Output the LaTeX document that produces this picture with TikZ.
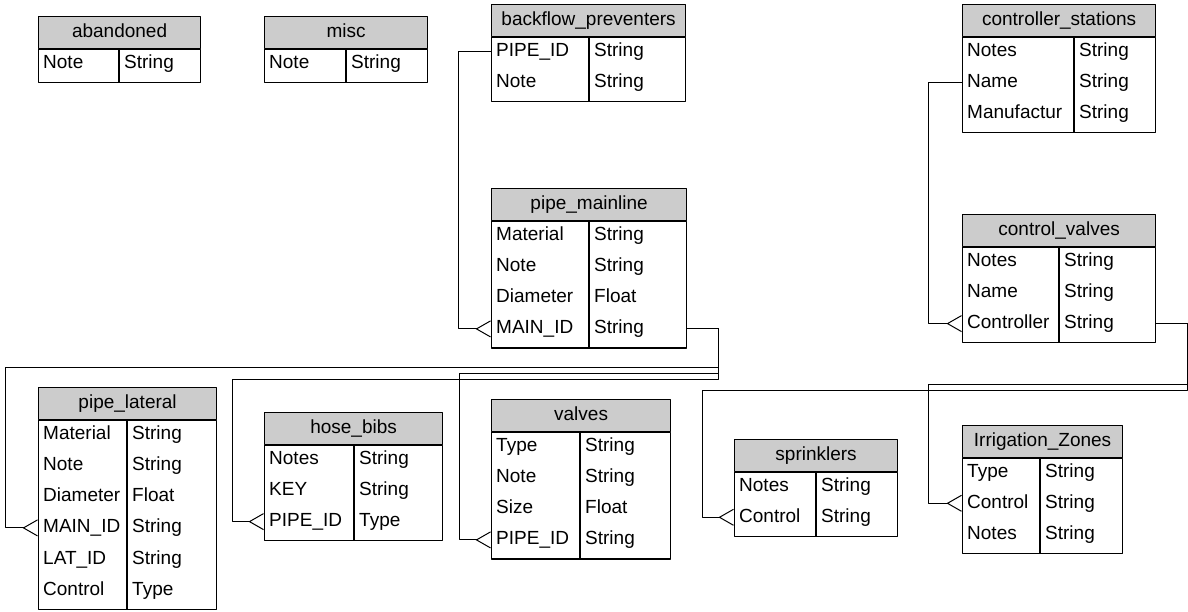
\documentclass[tikz,border=0pt]{standalone}
\usepackage{fontspec}
\setmainfont{Liberation Sans}
\usetikzlibrary{arrows.meta}
\newcommand{\tblfont}{\fontsize{19}{22}\selectfont}

\begin{document}
\begin{tikzpicture}[x=1pt, y=-1pt, line join=round,
    hdr/.style={draw, fill=gray!40, line width=1.2pt, minimum height=32, inner sep=0pt, text height=14pt, text depth=4pt, anchor=north west, font=\tblfont},
    body/.style={draw, line width=1.2pt, inner sep=0pt, anchor=north west},
    sep/.style={line width=1.2pt},
    fld/.style={anchor=west, inner xsep=5pt, inner ysep=0pt, text height=14pt, text depth=4pt, font=\tblfont},
    rel/.style={line width=1pt, -{Straight Barb[reversed, length=14pt, width=16pt]}}]
    \useasboundingbox (0,0) rectangle (1188,611);

    % tables, top row
    \node[hdr, minimum width=162] (abh) at (38,16) {abandoned};
    \node[body, minimum width=162, minimum height=32.3] (ab) at (abh.south west) {};
    \draw[sep] ([xshift=81pt]ab.north west) -- ([xshift=81pt]ab.south west);
    \foreach \f/\t [count=\i] in {Note/String}
        {\node[fld] (ab-\i) at (38,{63+31.3*(\i-1)}) {\f};
         \node[fld] (ab-t\i) at (119,{63+31.3*(\i-1)}) {\t};}

    \node[hdr, minimum width=163] (mih) at (264,16) {misc};
    \node[body, minimum width=163, minimum height=32.3] (mi) at (mih.south west) {};
    \draw[sep] ([xshift=82pt]mi.north west) -- ([xshift=82pt]mi.south west);
    \foreach \f/\t [count=\i] in {Note/String}
        {\node[fld] (mi-\i) at (264,{63+31.3*(\i-1)}) {\f};
         \node[fld] (mi-t\i) at (346,{63+31.3*(\i-1)}) {\t};}

    \node[hdr, minimum width=194] (bph) at (491,4) {backflow\_preventers};
    \node[body, minimum width=194, minimum height=63.6] (bp) at (bph.south west) {};
    \draw[sep] ([xshift=98pt]bp.north west) -- ([xshift=98pt]bp.south west);
    \foreach \f/\t [count=\i] in {PIPE\_ID/String, Note/String}
        {\node[fld] (bp-\i) at (491,{51+31.3*(\i-1)}) {\f};
         \node[fld] (bp-t\i) at (589,{51+31.3*(\i-1)}) {\t};}

    \node[hdr, minimum width=193] (csh) at (962,4) {controller\_stations};
    \node[body, minimum width=193, minimum height=94.9] (cs) at (csh.south west) {};
    \draw[sep] ([xshift=112pt]cs.north west) -- ([xshift=112pt]cs.south west);
    \foreach \f/\t [count=\i] in {Notes/String, Name/String, Manufactur/String}
        {\node[fld] (cs-\i) at (962,{51+31.3*(\i-1)}) {\f};
         \node[fld] (cs-t\i) at (1074,{51+31.3*(\i-1)}) {\t};}

    % tables, middle
    \node[hdr, minimum width=195] (pmh) at (491,188) {pipe\_mainline};
    \node[body, minimum width=195, minimum height=126.2] (pm) at (pmh.south west) {};
    \draw[sep] ([xshift=98pt]pm.north west) -- ([xshift=98pt]pm.south west);
    \foreach \f/\t [count=\i] in {Material/String, Note/String, Diameter/Float, MAIN\_ID/String}
        {\node[fld] (pm-\i) at (491,{235+31.3*(\i-1)}) {\f};
         \node[fld] (pm-t\i) at (589,{235+31.3*(\i-1)}) {\t};}

    \node[hdr, minimum width=193] (cvh) at (962,214) {control\_valves};
    \node[body, minimum width=193, minimum height=94.9] (cv) at (cvh.south west) {};
    \draw[sep] ([xshift=97pt]cv.north west) -- ([xshift=97pt]cv.south west);
    \foreach \f/\t [count=\i] in {Notes/String, Name/String, Controller/String}
        {\node[fld] (cv-\i) at (962,{261+31.3*(\i-1)}) {\f};
         \node[fld] (cv-t\i) at (1059,{261+31.3*(\i-1)}) {\t};}

    % tables, bottom row
    \node[hdr, minimum width=178] (plh) at (38,387) {pipe\_lateral};
    \node[body, minimum width=178, minimum height=188.8] (pl) at (plh.south west) {};
    \draw[sep] ([xshift=89pt]pl.north west) -- ([xshift=89pt]pl.south west);
    \foreach \f/\t [count=\i] in {Material/String, Note/String, Diameter/Float, MAIN\_ID/String, LAT\_ID/String, Control/Type}
        {\node[fld] (pl-\i) at (38,{434+31.3*(\i-1)}) {\f};
         \node[fld] (pl-t\i) at (127,{434+31.3*(\i-1)}) {\t};}

    \node[hdr, minimum width=178] (hbh) at (264,412) {hose\_bibs};
    \node[body, minimum width=178, minimum height=94.9] (hb) at (hbh.south west) {};
    \draw[sep] ([xshift=90pt]hb.north west) -- ([xshift=90pt]hb.south west);
    \foreach \f/\t [count=\i] in {Notes/String, KEY/String, PIPE\_ID/Type}
        {\node[fld] (hb-\i) at (264,{459+31.3*(\i-1)}) {\f};
         \node[fld] (hb-t\i) at (354,{459+31.3*(\i-1)}) {\t};}

    \node[hdr, minimum width=179] (vah) at (491,399) {valves};
    \node[body, minimum width=179, minimum height=126.2] (va) at (vah.south west) {};
    \draw[sep] ([xshift=89pt]va.north west) -- ([xshift=89pt]va.south west);
    \foreach \f/\t [count=\i] in {Type/String, Note/String, Size/Float, PIPE\_ID/String}
        {\node[fld] (va-\i) at (491,{446+31.3*(\i-1)}) {\f};
         \node[fld] (va-t\i) at (580,{446+31.3*(\i-1)}) {\t};}

    \node[hdr, minimum width=163] (sph) at (734,439) {sprinklers};
    \node[body, minimum width=163, minimum height=63.6] (sp) at (sph.south west) {};
    \draw[sep] ([xshift=82pt]sp.north west) -- ([xshift=82pt]sp.south west);
    \foreach \f/\t [count=\i] in {Notes/String, Control/String}
        {\node[fld] (sp-\i) at (734,{486+31.3*(\i-1)}) {\f};
         \node[fld] (sp-t\i) at (816,{486+31.3*(\i-1)}) {\t};}

    \node[hdr, minimum width=160] (izh) at (962,425) {Irrigation\_Zones};
    \node[body, minimum width=160, minimum height=94.9] (iz) at (izh.south west) {};
    \draw[sep] ([xshift=78pt]iz.north west) -- ([xshift=78pt]iz.south west);
    \foreach \f/\t [count=\i] in {Type/String, Control/String, Notes/String}
        {\node[fld] (iz-\i) at (962,{472+31.3*(\i-1)}) {\f};
         \node[fld] (iz-t\i) at (1040,{472+31.3*(\i-1)}) {\t};}

    % relations
    \draw[rel] (bp-1.west) -- ++(-33,0) |- (pm-4.west);
    \draw[rel] (cs-2.west) -- ++(-34,0) |- (cv-3.west);
    \draw[rel] (pm.east |- pm-4) -| (718,367) -| ([xshift=-33pt]pl-4.west) -- (pl-4.west);
    \draw[rel] (pm.east |- pm-4) -| (718,373) -| ([xshift=-32pt]va-4.west) -- (va-4.west);
    \draw[rel] (pm.east |- pm-4) -| (718,379) -| ([xshift=-32pt]hb-3.west) -- (hb-3.west);
    \draw[rel] (cv.east |- cv-3) -| (1187,384) -| ([xshift=-34pt]iz-2.west) -- (iz-2.west);
    \draw[rel] (cv.east |- cv-3) -| (1187,390) -| ([xshift=-32pt]sp-2.west) -- (sp-2.west);
\end{tikzpicture}
\end{document}
